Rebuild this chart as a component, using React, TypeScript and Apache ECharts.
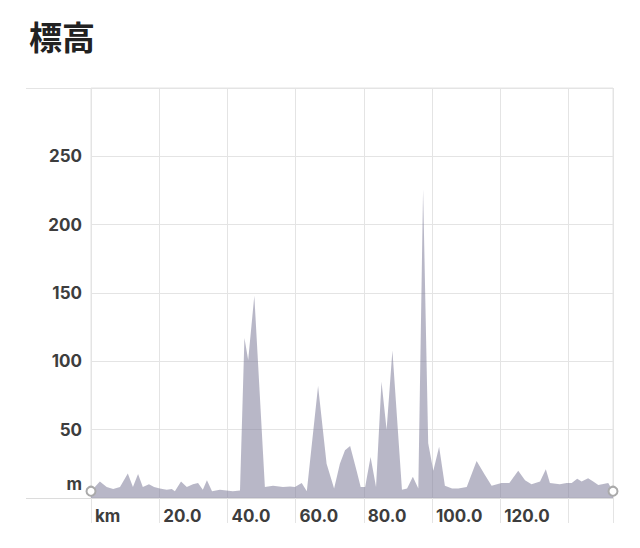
import React, { useEffect, useRef } from "react";
import * as echarts from "echarts";

const titleText = "標高";
const yUnitLabel = "m";
const xUnitLabel = "km";

const distanceKm = [
  0.0, 2.6, 4.6, 6.5, 8.5, 10.8, 12.3, 13.8, 15.2, 17.0, 18.5, 20.2, 22.2, 23.7, 24.6,
  26.4, 28.1, 29.9, 31.4, 32.8, 34.0, 35.5, 37.8, 41.6, 43.7, 45.0, 46.1, 47.9, 51.0,
  53.4, 56.3, 58.4, 59.8, 61.8, 63.3, 66.6, 69.1, 71.3, 73.0, 74.5, 76.0, 77.9, 79.1,
  80.4, 82.0, 83.6, 85.2, 86.7, 88.4, 91.2, 92.7, 94.4, 96.0, 97.4, 98.9, 100.4, 102.1,
  103.8, 105.9, 107.7, 110.2, 113.1, 115.5, 117.5, 120.4, 122.7, 125.3, 127.3, 129.2,
  131.7, 133.4, 134.6, 137.5, 139.5, 141.0, 142.6, 143.9, 145.8, 147.3, 148.8, 151.7, 153.1,
];

const elevationM = [
  5, 12, 8, 6.5, 8, 18, 8, 17.5, 8, 10, 8, 7, 6, 6.5, 5,
  12, 8, 10, 11, 6, 13, 5, 6, 5, 5.5, 117, 101, 148, 8,
  9, 8, 8.5, 8, 11, 5, 82, 25, 7, 25, 35, 38, 20, 8,
  8, 30, 8, 85, 50, 108, 6, 7, 15.5, 7, 226, 40, 20, 37.5,
  9, 7, 7, 8, 27, 17, 9, 11, 11, 20, 13, 10,
  12, 21, 11, 10, 11, 11, 14, 12, 14.5, 12, 9.5, 11, 5,
];

const xTickValues = [0, 20, 40, 60, 80, 100, 120, 140, 153.1];
const xLabelValues = [0, 20, 40, 60, 80, 100, 120];
const yTickValues = [0, 50, 100, 150, 200, 250, 300];

export default function App() {
  const ref = useRef<HTMLDivElement>(null);

  useEffect(() => {
    if (!ref.current) return;
    const chart = echarts.init(ref.current, null, { renderer: "svg" });
    const last = distanceKm.length - 1;
    const data = distanceKm.map((d, i) =>
      i === 0 || i === last
        ? { value: [d, elevationM[i]], symbol: "circle", symbolSize: 9 }
        : { value: [d, elevationM[i]], symbol: "none" }
    );
    const gridColor = "#e4e4e4";
    const labelFont = "Inter, 'Noto Sans', sans-serif";
    chart.setOption({
      animation: false,
      backgroundColor: "#ffffff",
      title: {
        text: titleText,
        left: 24,
        top: 14,
        textStyle: {
          fontSize: 33,
          fontWeight: "bold",
          color: "#222222",
          fontFamily: "'Noto Sans CJK JP', sans-serif",
        },
      },
      grid: {
        left: 91,
        right: 27,
        top: 88,
        bottom: 50,
        show: true,
        borderColor: gridColor,
        borderWidth: 1,
      },
      xAxis: {
        type: "value",
        min: 0,
        max: distanceKm[last],
        interval: 20,
        axisLine: { show: true, lineStyle: { color: "#dcdcdc", width: 1 } },
        axisTick: {
          show: true,
          length: 25,
          customValues: xTickValues,
          lineStyle: { color: gridColor },
        },
        splitLine: { show: true, lineStyle: { color: gridColor, width: 1 } },
        axisLabel: {
          customValues: xLabelValues,
          align: "left",
          margin: 9,
          padding: [0, 0, 0, 4],
          color: "#3d3d3d",
          fontSize: 17,
          fontWeight: "bold",
          fontFamily: labelFont,
          formatter: (v: number) => (v === 0 ? xUnitLabel : v.toFixed(1)),
        },
      },
      yAxis: {
        type: "value",
        min: 0,
        max: 300,
        interval: 50,
        axisLine: { show: false },
        axisTick: { show: false },
        splitLine: { show: true, lineStyle: { color: gridColor, width: 1 } },
        axisLabel: {
          customValues: yTickValues.slice(0, 6),
          margin: 9,
          color: "#3d3d3d",
          fontSize: 17,
          fontWeight: "bold",
          fontFamily: labelFont,
          formatter: (v: number) => (v === 0 ? "{m|" + yUnitLabel + "}" : String(v)),
          rich: {
            m: {
              fontSize: 17,
              fontWeight: "bold",
              fontFamily: labelFont,
              color: "#3d3d3d",
              padding: [0, 0, 28, 0],
            },
          },
        },
      },
      graphic: [
        {
          type: "line",
          shape: { x1: 26, y1: 88.5, x2: 91, y2: 88.5 },
          style: { stroke: gridColor, lineWidth: 1 },
          silent: true,
        },
        {
          type: "line",
          shape: { x1: 26, y1: 498.5, x2: 91, y2: 498.5 },
          style: { stroke: "#dcdcdc", lineWidth: 1 },
          silent: true,
        },
      ],
      series: [
        {
          type: "line",
          data,
          smooth: false,
          showSymbol: true,
          lineStyle: { width: 0, opacity: 0 },
          areaStyle: { color: "rgba(128,126,155,0.56)", opacity: 1 },
          itemStyle: { color: "#ffffff", borderColor: "#aaaaaa", borderWidth: 2 },
          z: 3,
        },
      ],
    });
    return () => chart.dispose();
  }, []);

  return (
    <div
      ref={ref}
      style={{ position: "fixed", left: 0, top: 0, width: 640, height: 548 }}
    />
  );
}
